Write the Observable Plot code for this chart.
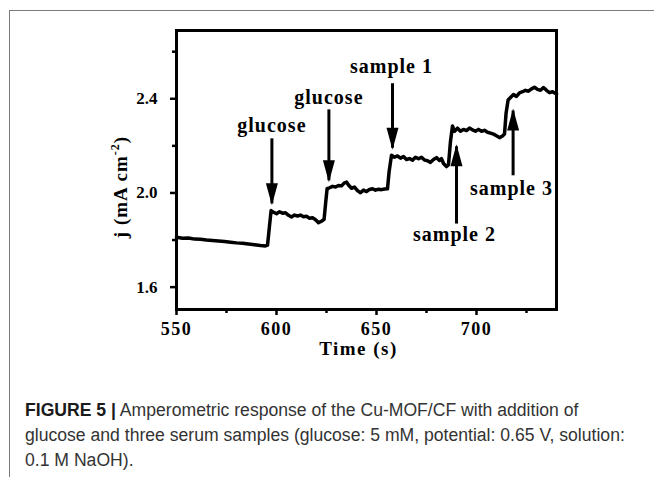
<!DOCTYPE html>
<html>
<head>
<meta charset="utf-8">
<script src="https://cdn.jsdelivr.net/npm/d3@7"></script>
<script src="https://cdn.jsdelivr.net/npm/@observablehq/plot@0.6"></script>
<style>
  html, body { margin: 0; padding: 0; background: #fff; }
  body { width: 654px; height: 477px; position: relative; overflow: hidden; }
  #box { position: absolute; left: 9px; top: 10px; width: 700px; height: 520px;
         border-top: 1.5px solid #7a7a7a; border-left: 1.5px solid #7a7a7a; }
  #chart { position: absolute; left: 0; top: 0; }
  #caption { position: absolute; left: 25px; top: 398px; width: 625px;
             font-family: "Liberation Sans", Arial, sans-serif; font-weight: 400;
             font-size: 17.6px; line-height: 25px; color: #333; white-space: nowrap; }
  #caption b { font-weight: 700; color: #1a1a1a; }
  svg text { font-family: "Liberation Serif", "Times New Roman", serif; font-weight: bold; }
</style>
</head>
<body>
<div id="box"></div>
<div id="chart"></div>
<div id="caption"><b>FIGURE 5 |</b> Amperometric response of the Cu-MOF/CF with addition of<br>glucose and three serum samples (glucose: 5 mM, potential: 0.65 V, solution:<br>0.1 M NaOH).</div>
<script>
// ---- data ----
const times = [550, 553, 556, 559, 562, 565, 568, 571, 574, 577, 580, 583, 586, 589, 592, 594.5, 595.5, 596.5, 597.3, 598.5,
  600, 601.5, 603, 604.5, 606, 607.5, 609, 610.5, 612, 613.5, 615, 616.5, 618, 619.5, 621, 622.5, 623.8, 624.6, 625.3, 626.5,
  628, 629.5, 631, 632.5, 634, 635, 636, 637.5, 639, 640.5, 642, 643.5, 645, 646.5, 648, 649.5, 651, 652.5, 654, 655.5,
  656.3, 657.5, 659, 660.5, 662, 663.5, 665, 666.5, 668, 669.5, 671, 672.5, 674, 675.5, 677, 678.5, 680, 681.5, 682.5, 683.5,
  685, 686, 687, 688, 689, 690.5, 692, 693.5, 695, 696.5, 698, 699.5, 701, 702.5, 704, 705.5, 707, 708.5, 710, 711.5,
  713, 714, 714.8, 715.8, 717, 718.5, 720, 721.5, 723, 724.5, 726, 727.5, 729, 730.5, 732, 733.5, 735, 736.5, 738, 740];
const currents = [1.812, 1.808, 1.809, 1.804, 1.803, 1.800, 1.798, 1.796, 1.794, 1.791, 1.788, 1.786, 1.783, 1.780, 1.777, 1.775, 1.778, 1.860, 1.925, 1.918,
  1.912, 1.920, 1.914, 1.916, 1.905, 1.898, 1.906, 1.902, 1.906, 1.899, 1.901, 1.893, 1.895, 1.886, 1.874, 1.880, 1.888, 1.960, 2.018, 2.022,
  2.028, 2.025, 2.032, 2.030, 2.043, 2.046, 2.034, 2.020, 2.025, 2.010, 2.001, 2.012, 2.006, 2.015, 2.018, 2.012, 2.016, 2.014, 2.017, 2.018,
  2.090, 2.160, 2.152, 2.157, 2.148, 2.155, 2.142, 2.146, 2.139, 2.152, 2.145, 2.152, 2.140, 2.137, 2.130, 2.142, 2.150, 2.138, 2.146, 2.125,
  2.112, 2.120, 2.220, 2.284, 2.262, 2.275, 2.262, 2.270, 2.265, 2.276, 2.268, 2.262, 2.270, 2.262, 2.266, 2.258, 2.254, 2.250, 2.243, 2.235,
  2.242, 2.250, 2.340, 2.395, 2.405, 2.418, 2.410, 2.425, 2.430, 2.436, 2.432, 2.442, 2.449, 2.440, 2.436, 2.448, 2.436, 2.426, 2.430, 2.420];

const arrowTimes = [597.7, 626.2, 658.0, 690.0, 718.3];
const arrowStart = [2.232, 2.355, 2.466, 1.870, 2.075];
const arrowEnd   = [1.956, 2.054, 2.192, 2.198, 2.350];

const labelText   = ["glucose", "glucose", "sample 1", "sample 2", "sample 3"];
const labelTimes  = [597.7, 626.2, 657.5, 689.0, 717.5];
const labelValues = [2.287, 2.405, 2.537, 1.825, 2.018];

const xMajorTicks = [550, 600, 650, 700];
const xMinorTicks = [575, 625, 675, 725];
const yMajorTicks = [1.6, 2.0, 2.4];
const yMinorTicks = [1.8, 2.2, 2.6];

const xLabel = "Time (s)";

// ---- build tables ----
const trace = times.map((t, i) => ({t, j: currents[i]}));
const arrows = arrowTimes.map((t, i) => ({t, from: arrowStart[i], to: arrowEnd[i]}));
const labels = labelText.map((s, i) => ({s, t: labelTimes[i], v: labelValues[i]}));

const head = {
  draw(ctx) {
    ctx.moveTo(-6, -20);
    ctx.lineTo(6, -20);
    ctx.lineTo(0, 2);
    ctx.closePath();
  }
};

const chart = Plot.plot({
  width: 654,
  height: 372,
  marginTop: 30,
  marginBottom: 63,
  marginLeft: 176,
  marginRight: 98,
  x: {domain: [550, 740]},
  y: {domain: [1.505, 2.69]},
  style: {fontFamily: "'Liberation Serif', 'Times New Roman', serif", background: "transparent", color: "black"},
  marks: [
    Plot.axisX({ticks: xMajorTicks, tickSize: 6, tickPadding: 7, strokeWidth: 2.5, fontSize: 18, fontWeight: "bold", label: null, className: "xt"}),
    Plot.axisX({ticks: xMinorTicks, tickSize: 4, strokeWidth: 2.5, tickFormat: () => "", label: null}),
    Plot.axisY({ticks: yMajorTicks, tickSize: 6, tickPadding: 13, strokeWidth: 2.5, fontSize: 17, fontWeight: "bold", tickFormat: d3.format(".1f"), label: null}),
    Plot.axisY({ticks: yMinorTicks, tickSize: 4, strokeWidth: 2.5, tickFormat: () => "", label: null}),
    Plot.line(trace, {x: "t", y: "j", stroke: "black", strokeWidth: 3.5, strokeLinejoin: "round", strokeLinecap: "round"}),
    Plot.link(arrows, {x1: "t", x2: "t", y1: "from", y2: "to", stroke: "black", strokeWidth: 3}),
    Plot.dot(arrows, {x: "t", y: "to", symbol: head, r: 5, fill: "black", stroke: "none",
                      rotate: d => (d.to > d.from ? 180 : 0)}),
    Plot.text(labels, {x: "t", y: "v", text: "s", fontSize: 20, fontWeight: "bold", fill: "black",
                       textAnchor: "middle", lineAnchor: "middle", className: "lbl"}),
    Plot.text([xLabel], {frameAnchor: "bottom", dx: -8, dy: 45, fontSize: 19, fontWeight: "bold", fill: "black", className: "xlab"}),
    Plot.frame({stroke: "black", strokeWidth: 3})
  ]
});

document.getElementById("chart").appendChild(chart);

const svg = d3.select(chart);
svg.selectAll(".lbl text").style("letter-spacing", "1px");
svg.selectAll(".xlab text").style("letter-spacing", "1.5px");
svg.selectAll(".xt text").style("letter-spacing", "1.5px");

// y-axis title with superscript
const yt = svg.append("text")
  .attr("transform", "translate(127,187) rotate(-90)")
  .attr("text-anchor", "middle")
  .attr("font-size", 19)
  .attr("font-weight", "bold")
  .attr("fill", "black")
  .style("letter-spacing", "1px");
yt.append("tspan").text("j (mA cm");
yt.append("tspan").attr("dy", -8).attr("font-size", 12).text("-2");
yt.append("tspan").attr("dy", 8).text(")");
</script>
</body>
</html>
